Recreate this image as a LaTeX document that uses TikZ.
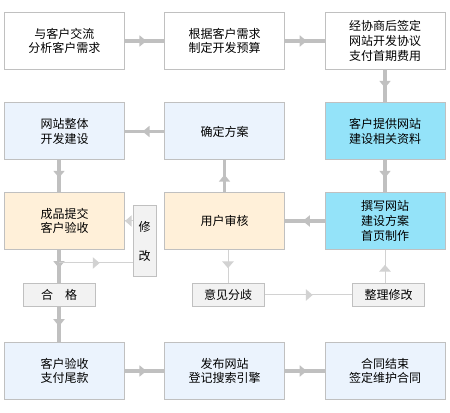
\documentclass[tikz,border=0pt]{standalone}
\usepackage{fontspec}
\newfontfamily\cjk{Noto Sans CJK SC}
\usepackage{tikz}
\usetikzlibrary{arrows.meta}
\usetikzlibrary{decorations.markings}
\usepackage{xcolor}
\definecolor{edgegray}{RGB}{192,192,192}
\definecolor{thingray}{RGB}{210,210,210}
\definecolor{paleblue}{RGB}{235,243,253}
\definecolor{skyfill}{RGB}{148,227,249}
\definecolor{creamfill}{RGB}{255,240,217}
\definecolor{minorfill}{RGB}{242,242,242}

\begin{document}
\begin{tikzpicture}[x=0.75pt,y=-0.75pt,
    box/.style={draw=edgegray,line width=0.75pt,minimum width=90pt,minimum height=42.75pt,
      inner sep=0pt,align=center,font=\cjk\fontsize{9}{11}\selectfont},
    minor/.style={box,fill=minorfill,minimum width=54pt,minimum height=17.25pt},
    link/.style={draw=edgegray,line width=2.6pt,postaction={decorate},
      decoration={markings,mark=at position 0.55 with {\arrow{Triangle[length=5.25pt,width=8.25pt]}}}},
    thinlink/.style={draw=thingray,line width=0.75pt,postaction={decorate},
      decoration={markings,mark=at position #1 with {\arrow{Triangle[length=5pt,width=8.5pt]}}}},
    thinlink/.default=0.55]
          \useasboundingbox (0,0) rectangle (450,413);
          % first row
          \node[box] (talk) at (64.5,41) {与客户交流\\分析客户需求};
          \node[box] (budget) at (224.5,41) {根据客户需求\\制定开发预算};
          \node[box] (sign) at (385,41) {经协商后签定\\网站开发协议\\支付首期费用};
          % second row
          \node[box,fill=paleblue] (build) at (64.5,131.5) {网站整体\\开发建设};
          \node[box,fill=paleblue] (confirm) at (224.5,131.5) {确定方案};
          \node[box,fill=skyfill] (material) at (385,131.5) {客户提供网站\\建设相关资料};
          % third row
          \node[box,fill=creamfill] (submit) at (64.5,221) {成品提交\\客户验收};
          \node[box,fill=creamfill] (review) at (224.5,221) {用户审核};
          \node[box,fill=skyfill] (plan) at (385,221) {撰写网站\\建设方案\\首页制作};
          \node[minor,minimum width=17.25pt,minimum height=53.25pt] (fix) at (144.7,241) {修\\[10.75pt]改};
          % small boxes
          \node[minor] (pass) at (59,295) {合　格};
          \node[minor] (differ) at (228,295) {意见分歧};
          \node[minor] (revise) at (388.5,295) {整理修改};
          % last row
          \node[box,fill=paleblue] (pay) at (64.5,371) {客户验收\\支付尾款};
          \node[box,fill=paleblue] (publish) at (224.5,371) {发布网站\\登记搜索引擎};
          \node[box,fill=paleblue] (close) at (385,371) {合同结束\\签定维护合同};
          \coordinate (split) at (59,263);
          % main flow
          \draw[link] (talk) -- (budget);
          \draw[link] (budget) -- (sign);
          \draw[link] (sign) -- (material);
          \draw[link] (material) -- (plan);
          \draw[link] (plan) -- (review);
          \draw[link] (review) -- (confirm);
          \draw[link] (confirm) -- (build);
          \draw[link] (build.south -| pass) -- (submit.north -| pass);
          \draw[link] (submit.south -| pass) -- (pass.north);
          \draw[link] (pass.south) -- (pay.north -| pass);
          \draw[link] (pay) -- (publish);
          \draw[link] (publish) -- (close);
          % side loops
          \draw[thinlink] (review.south -| differ) -- (differ.north);
          \draw[thinlink] (differ.east) -- (revise.west);
          \draw[thinlink] (revise.north -| plan) -- (plan.south);
          \draw[thinlink] (split) -- (split -| fix.west);
          \draw[thinlink=1] (fix.west |- submit) -- (submit.east);
        \end{tikzpicture}
\end{document}
